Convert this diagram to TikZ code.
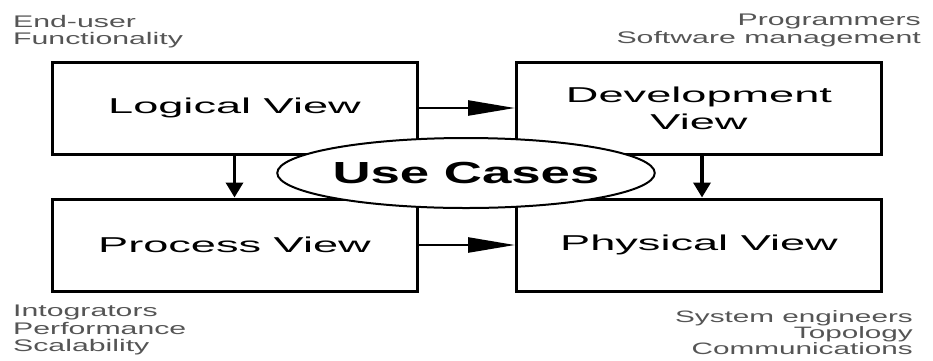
\documentclass[tikz,border=0pt]{standalone}
\usepackage{fontspec}
\setmainfont{Liberation Sans}
\newfontfamily\labfont[FakeStretch=1.8]{Liberation Sans}
\newfontfamily\boxfont[FakeStretch=2.1]{Liberation Sans}
\newfontfamily\ucfont[FakeStretch=1.73]{Liberation Sans}
\usetikzlibrary{shapes.geometric,arrows.meta}
\definecolor{labgray}{RGB}{85,85,85}
\tikzset{
  viewbox/.style={draw, line width=3pt, minimum width=365pt, minimum height=92pt,
    inner sep=0pt, align=center, font=\boxfont\fontsize{21.5}{27}\selectfont},
  lab/.style={inner sep=0pt, text=labgray, font=\labfont\fontsize{16.8}{17.5}\selectfont},
  harr/.style={line width=2.5pt, -{Triangle[length=47pt,width=15pt]}},
  varr/.style={line width=3.5pt, -{Triangle[length=15pt,width=17pt]}},
  uc/.style={ellipse, draw, line width=2pt, fill=white, minimum width=327pt,
    minimum height=70pt, inner sep=0pt, font=\ucfont\bfseries\fontsize{30.5}{32}\selectfont}
}
\begin{document}
\begin{tikzpicture}[x=1pt,y=-1pt]
\useasboundingbox (0,0) rectangle (933,360);
\fill[white] (0,0) rectangle (933,360);
\node[viewbox] (lv) at (234.5,108) {Logical View};
\node[viewbox] (dv) at (699,108) {Development\\View};
\node[viewbox] (pv) at (234.5,245) {Process View};
\node[viewbox] (phv) at (699,245) {Physical View};
\draw[harr] (lv.east) -- (dv.west);
\draw[harr] (pv.east) -- (phv.west);
\draw[varr] (lv.south) -- (pv.north);
\draw[varr] ([xshift=3pt]dv.south) -- ([xshift=3pt]phv.north);
\node[uc] (uc) at (466,173) {Use Cases};
\node[lab, anchor=north west, align=left] (tl) at (13,15) {End-user\\Functionality};
\node[lab, anchor=north east, align=right] (tr) at (921,14) {Programmers\\Software management};
\node[lab, anchor=north west, align=left] (bl) at (13,305) {Intogrators\\Performance\\Scalability};
\node[lab, anchor=north east, align=right, font=\labfont\fontsize{16.5}{16}\selectfont] (br) at (913,310) {System engineers\\Topology\\Communications};
\end{tikzpicture}
\end{document}
